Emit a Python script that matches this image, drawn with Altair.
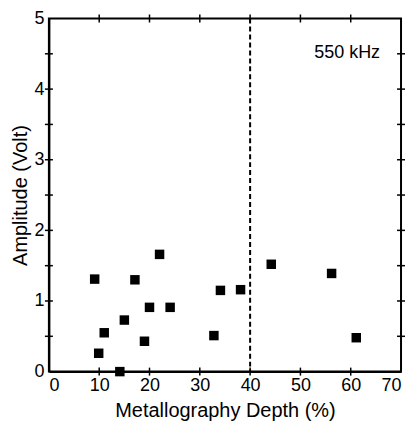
import altair as alt
import pandas as pd

depth = [9.1, 9.9, 11.0, 14.1, 15.0, 17.1, 19.0, 20.0, 22.0, 24.1, 32.8, 34.1, 38.1, 44.2, 56.2, 61.1]
amplitude = [1.31, 0.26, 0.55, 0.0, 0.73, 1.30, 0.43, 0.91, 1.66, 0.91, 0.51, 1.15, 1.16, 1.52, 1.39, 0.48]
threshold = [40]
x_ticks = [10, 20, 30, 40, 50, 60]
y_ticks = [0.5, 1.0, 1.5, 2.0, 2.5, 3.0, 3.5, 4.0, 4.5]
x_labels = [0, 10, 20, 30, 40, 50, 60, 70]
y_labels = [0, 1, 2, 3, 4, 5]
annotation = "550 kHz"

W, H = 353, 354
FONT = "Liberation Sans"

xs = alt.Scale(domain=[0, 70], nice=False)
ys = alt.Scale(domain=[0, 5], nice=False)

pts = pd.DataFrame({"depth": depth, "amp": amplitude})
xt = pd.DataFrame({"v": x_ticks})
yt = pd.DataFrame({"v": y_ticks})
thr = pd.DataFrame({"v": threshold})

points = alt.Chart(pts).mark_square(size=90, color="black", opacity=1).encode(
    x=alt.X("depth:Q", scale=xs,
            axis=alt.Axis(values=x_labels, format="d", title="Metallography Depth (%)",
                          ticks=False, grid=False, labelPadding=5, titlePadding=6)),
    y=alt.Y("amp:Q", scale=ys,
            axis=alt.Axis(values=y_labels, format="d", title="Amplitude (Volt)",
                          ticks=False, grid=False, labelPadding=5, titlePadding=3)),
)

dash = alt.Chart(thr).mark_rule(color="black", strokeWidth=2, strokeDash=[5, 3]).encode(
    x=alt.X("v:Q", scale=xs)
)

tick_style = dict(color="black", thickness=1.5, size=8, opacity=1)
bottom = alt.Chart(xt).mark_tick(orient="vertical", **tick_style).encode(
    x=alt.X("v:Q", scale=xs), y=alt.value(H))
top = alt.Chart(xt).mark_tick(orient="vertical", **tick_style).encode(
    x=alt.X("v:Q", scale=xs), y=alt.value(0))
left = alt.Chart(yt).mark_tick(orient="horizontal", **tick_style).encode(
    y=alt.Y("v:Q", scale=ys), x=alt.value(0))
right = alt.Chart(yt).mark_tick(orient="horizontal", **tick_style).encode(
    y=alt.Y("v:Q", scale=ys), x=alt.value(W))

label = alt.Chart(pd.DataFrame({"t": [annotation]})).mark_text(
    font=FONT, fontSize=18, color="black", align="center", baseline="middle"
).encode(text="t:N", x=alt.value(299), y=alt.value(35))

chart = alt.layer(dash, bottom, top, left, right, points, label).properties(
    width=W, height=H,
    autosize=alt.AutoSizeParams(type="none"),
    padding={"left": 41, "top": 10, "right": 10, "bottom": 50},
).configure_axis(
    labelFont=FONT, titleFont=FONT, labelFontSize=18, titleFontSize=20,
    labelColor="black", titleColor="black", titleFontWeight="normal",
    domainColor="black", domainWidth=2,
).configure_view(stroke="black", strokeWidth=2)

chart.save("out.html", embed_options={"renderer": "svg", "actions": False})
